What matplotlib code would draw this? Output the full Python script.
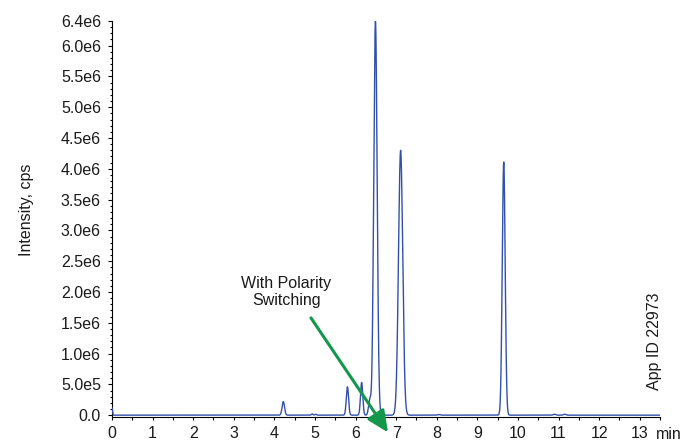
import numpy as np
import matplotlib
matplotlib.use("Agg")
import matplotlib.pyplot as plt
from matplotlib.ticker import MultipleLocator

# Peak table for the chromatogram trace (retention time in min, height in cps, width sigma in min)
peak_rt = [0.00, 4.22, 4.93, 5.02, 5.80, 6.15, 6.35, 6.49, 7.11, 8.05, 9.65, 10.90, 11.15]
peak_height = [0.12e6, 0.22e6, 0.02e6, 0.015e6, 0.46e6, 0.53e6, 0.25e6, 6.40e6, 4.30e6, 0.01e6, 4.11e6, 0.015e6, 0.015e6]
peak_sigma = [0.012, 0.030, 0.020, 0.020, 0.028, 0.028, 0.030, 0.042, 0.052, 0.030, 0.036, 0.030, 0.030]

y_ticks = [0.0, 0.5e6, 1.0e6, 1.5e6, 2.0e6, 2.5e6, 3.0e6, 3.5e6, 4.0e6, 4.5e6, 5.0e6, 5.5e6, 6.0e6, 6.4e6]
y_labels = ["0.0", "5.0e5", "1.0e6", "1.5e6", "2.0e6", "2.5e6", "3.0e6", "3.5e6",
            "4.0e6", "4.5e6", "5.0e6", "5.5e6", "6.0e6", "6.4e6"]
x_ticks = list(range(0, 14))

TRACE = "#3150ac"
ARROW = "#13974a"
TEXT = "#1a1a1a"
FS = 11.5

plt.rcParams["font.family"] = ["Liberation Sans", "DejaVu Sans"]

# build the trace as a sum of gaussian peaks
t = np.arange(0.0, 13.5, 0.002)
signal = np.zeros_like(t)
for rt, h, s in zip(peak_rt, peak_height, peak_sigma):
    signal += h * np.exp(-0.5 * ((t - rt) / s) ** 2)

fig = plt.figure(figsize=(6.84, 4.44), dpi=100)
ax = fig.add_axes([112 / 684, 27 / 444, 548 / 684, 396 / 444])

ax.plot(t, signal, color=TRACE, lw=1.0, zorder=3)

ax.set_xlim(0, 13.5)
ax.set_ylim(-0.03e6, 6.4e6)

ax.set_xticks(x_ticks)
ax.set_xticklabels([str(v) for v in x_ticks])
ax.xaxis.set_minor_locator(MultipleLocator(0.5))
ax.set_yticks(y_ticks)
ax.set_yticklabels(y_labels)
ax.yaxis.set_minor_locator(MultipleLocator(1e5))

ax.tick_params(axis="x", which="both", direction="out", length=2.2, width=0.8,
               pad=4, labelsize=FS, labelcolor=TEXT)
ax.tick_params(axis="y", which="major", direction="out", length=3, width=0.8,
               pad=5, labelsize=FS, labelcolor=TEXT)
ax.tick_params(axis="y", which="minor", direction="out", length=1.6, width=0.8)

for side in ("top", "right"):
    ax.spines[side].set_visible(False)
for side in ("left", "bottom"):
    ax.spines[side].set_linewidth(0.8)
    ax.spines[side].set_color("black")

# axis titles
fig.text(27 / 684, 1 - 210 / 444, "Intensity, cps", rotation=90, ha="center", va="center",
         fontsize=FS, color=TEXT)
fig.text(656 / 684, 1 - 434 / 444, "min", ha="left", va="center", fontsize=FS, color=TEXT)
fig.text(655 / 684, 1 - 341 / 444, "App ID 22973", rotation=90, ha="center", va="center",
         fontsize=FS, color=TEXT)

# callout
ax.text(4.29, 2.0e6, "With Polarity\nSwitching", ha="center", va="center",
        fontsize=FS, color=TEXT)
ax.annotate("", xy=(6.80, -0.28e6), xytext=(4.90, 1.58e6),
            xycoords="data", textcoords="data", annotation_clip=False,
            arrowprops=dict(arrowstyle="-|>,head_length=1.3,head_width=0.6",
                            mutation_scale=10, color=ARROW, lw=2.2,
                            shrinkA=0, shrinkB=0), zorder=5)

fig.savefig("out.png", dpi=100)
